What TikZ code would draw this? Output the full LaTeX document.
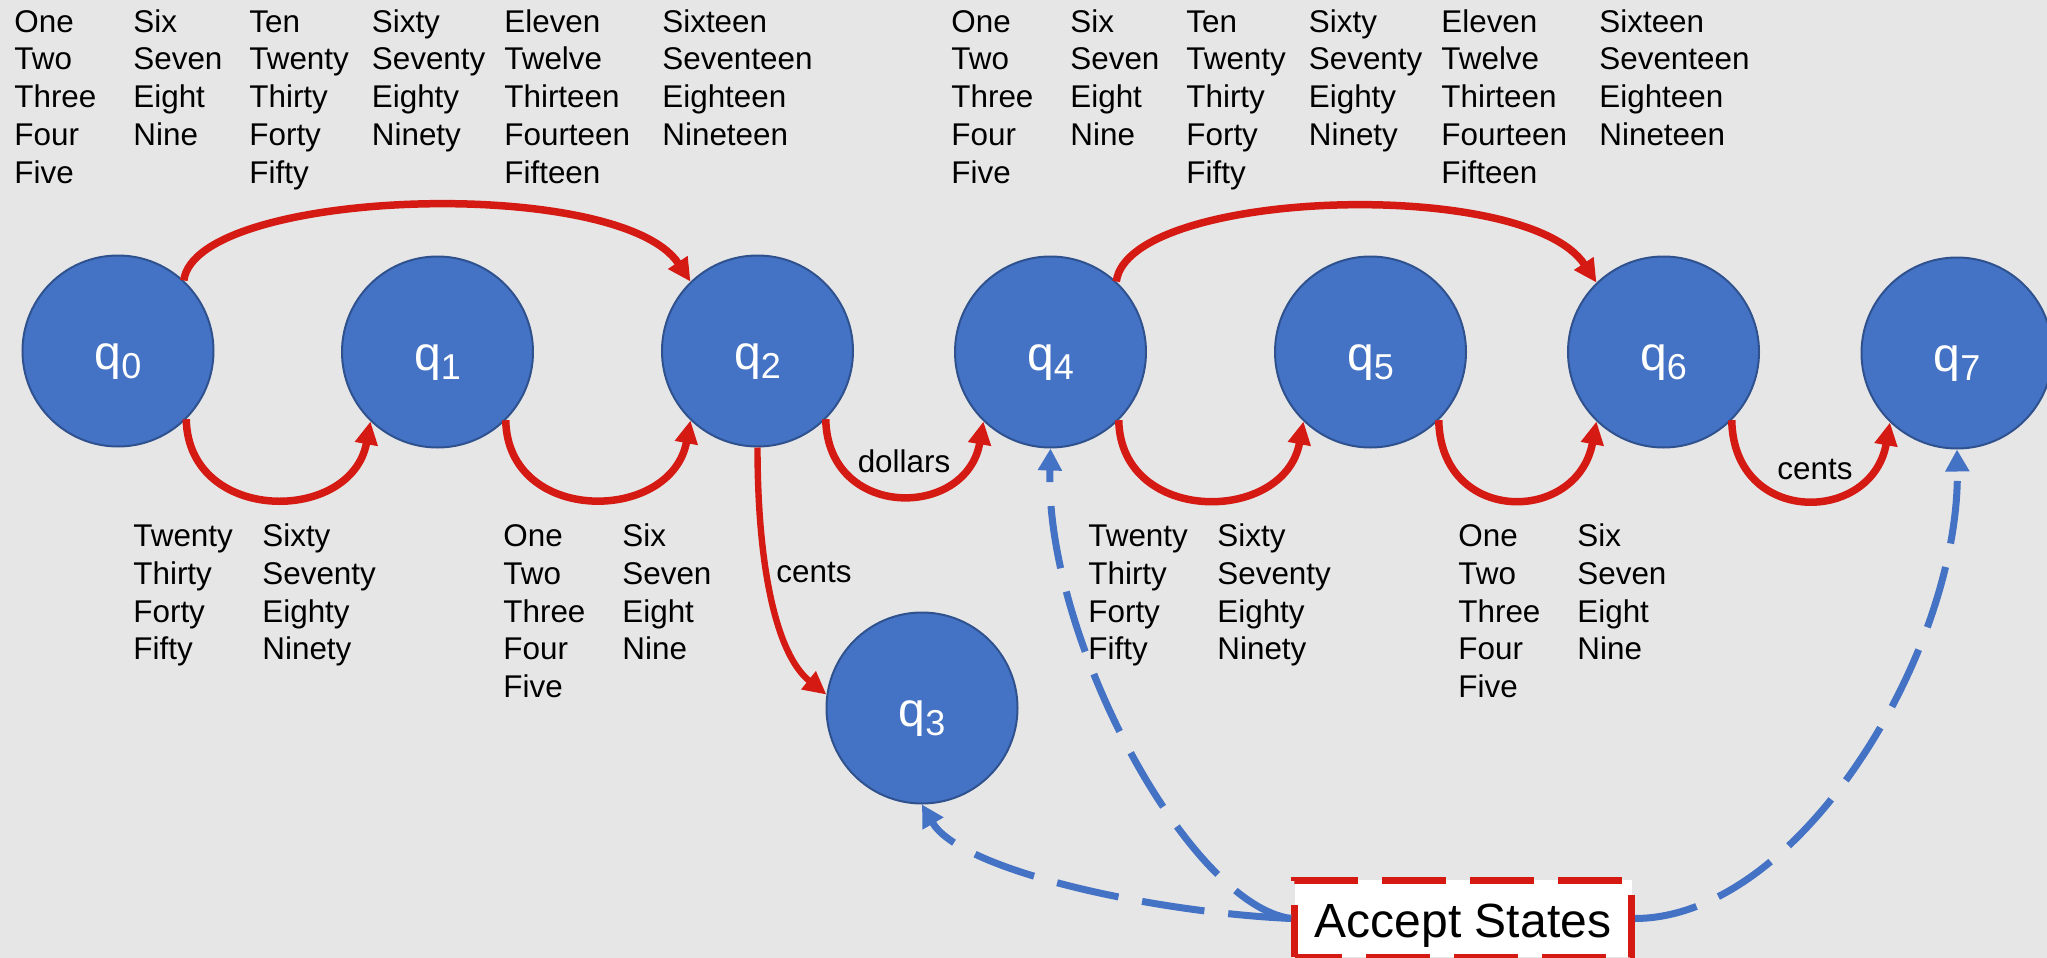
\documentclass[tikz,border=0pt]{standalone}
\usepackage{fontspec}
\setmainfont{Liberation Sans}
\usetikzlibrary{arrows.meta}
\definecolor{bgc}{RGB}{231,230,230}
\definecolor{stfill}{RGB}{68,114,196}
\definecolor{stdraw}{RGB}{47,82,143}
\definecolor{arrred}{RGB}{213,26,20}
\definecolor{accblue}{RGB}{68,114,196}
\newcommand{\firstln}{\rule{0pt}{12pt}}
\newcommand{\qsub}[1]{q\raisebox{-4.5pt}{\fontsize{18}{18}\selectfont #1}}
\begin{document}
\begin{tikzpicture}[x=0.5pt,y=-0.5pt,
  state/.style={circle, fill=stfill, draw=stdraw, line width=1pt, minimum size=95.5pt, inner sep=0pt, text=white, font=\fontsize{24}{24}\selectfont, text height=23pt, text depth=5pt},
  words/.style={font=\fontsize{15.7}{18.9}\selectfont, align=left, anchor=north west, inner sep=0pt},
  elabel/.style={font=\fontsize{15.7}{18.9}\selectfont, inner sep=0pt},
  trans/.style={draw=arrred, line width=3.75pt, -{Triangle[length=11.5pt,width=11pt]}},
  accline/.style={draw=accblue, line width=3.5pt, dash pattern=on 31.5pt off 12pt, -{Triangle[length=11pt,width=11.5pt]}},
  accbox/.style={rectangle, fill=white, draw=arrred, line width=3.5pt, dash pattern=on 32pt off 12pt, dash phase=8.25pt, minimum width=168.5pt, minimum height=38.5pt, inner sep=0pt, font=\fontsize{24}{24}\selectfont, text height=24pt, text depth=5pt}
]
\fill[bgc] (0,0) rectangle (2047,958);
\useasboundingbox (0,0) rectangle (2047,958);

% states
\node[state] (q0) at (118,351) {\qsub{0}};
\node[state] (q1) at (437.5,352) {\qsub{1}};
\node[state] (q2) at (757.5,351) {\qsub{2}};
\node[state] (q3) at (922,708) {\qsub{3}};
\node[state] (q4) at (1050.5,352) {\qsub{4}};
\node[state] (q5) at (1370.5,352) {\qsub{5}};
\node[state] (q6) at (1663.5,352) {\qsub{6}};
\node[state] (q7) at (1957,353) {\qsub{7}};

% top word lists
\node[words] (tA1) at (14,7.7) {\firstln One\\Two\\Three\\Four\\Five};
\node[words] (tA2) at (133,7.7) {\firstln Six\\Seven\\Eight\\Nine};
\node[words] (tA3) at (249,7.7) {\firstln Ten\\Twenty\\Thirty\\Forty\\Fifty};
\node[words] (tA4) at (371.5,7.7) {\firstln Sixty\\Seventy\\Eighty\\Ninety};
\node[words] (tA5) at (504,7.7) {\firstln Eleven\\Twelve\\Thirteen\\Fourteen\\Fifteen};
\node[words] (tA6) at (662,7.7) {\firstln Sixteen\\Seventeen\\Eighteen\\Nineteen};
\node[words] (tB1) at (951,7.7) {\firstln One\\Two\\Three\\Four\\Five};
\node[words] (tB2) at (1070,7.7) {\firstln Six\\Seven\\Eight\\Nine};
\node[words] (tB3) at (1186,7.7) {\firstln Ten\\Twenty\\Thirty\\Forty\\Fifty};
\node[words] (tB4) at (1308.5,7.7) {\firstln Sixty\\Seventy\\Eighty\\Ninety};
\node[words] (tB5) at (1441,7.7) {\firstln Eleven\\Twelve\\Thirteen\\Fourteen\\Fifteen};
\node[words] (tB6) at (1599,7.7) {\firstln Sixteen\\Seventeen\\Eighteen\\Nineteen};

% bottom word lists
\node[words] (bA1) at (133,522) {\firstln Twenty\\Thirty\\Forty\\Fifty};
\node[words] (bA2) at (262,522) {\firstln Sixty\\Seventy\\Eighty\\Ninety};
\node[words] (bA3) at (503,522) {\firstln One\\Two\\Three\\Four\\Five};
\node[words] (bA4) at (622,522) {\firstln Six\\Seven\\Eight\\Nine};
\node[words] (bB1) at (1088,522) {\firstln Twenty\\Thirty\\Forty\\Fifty};
\node[words] (bB2) at (1217,522) {\firstln Sixty\\Seventy\\Eighty\\Ninety};
\node[words] (bB3) at (1458,522) {\firstln One\\Two\\Three\\Four\\Five};
\node[words] (bB4) at (1577,522) {\firstln Six\\Seven\\Eight\\Nine};

% edge labels
\node[elabel, anchor=base] (ldollars) at (904,472) {dollars};
\node[elabel, anchor=base west] (lcentsA) at (776,582) {cents};
\node[elabel, anchor=base] (lcentsB) at (1815,479) {cents};

% red transitions
\draw[trans] (q0.47) .. controls +(12,-92) and +(-71,-107) .. (q2.134);
\draw[trans] (q4.47) .. controls +(12,-92) and +(-71,-107) .. (q6.134);
\draw[trans] (q0.-45) .. controls +(2,105) and +(-19,103) .. (q1.-134);
\draw[trans] (q1.-45) .. controls +(2,105) and +(-19,103) .. (q2.-134);
\draw[trans] (q2.-45) .. controls +(2,101) and +(-17,98) .. (q4.-134);
\draw[trans] (q4.-45) .. controls +(2,105) and +(-19,103) .. (q5.-134);
\draw[trans] (q5.-45) .. controls +(2,105) and +(-19,103) .. (q6.-134);
\draw[trans] (q6.-45) .. controls +(2,106) and +(-18,102) .. (q7.-134);
\draw[trans, line width=3.2pt] (q2.-90) .. controls +(0,120) and +(-50,-40) .. (q3.172);

% accept box and blue dashed arrows
\node[accbox] (acc) at (1463,918.5) {Accept States};
\draw[accline] (acc.west) .. controls (1150,912) and (960,870) .. (q3.-90);
\draw[accline] (acc.west) .. controls (1190,905) and (1045,640) .. (q4.-90);
\draw[accline] (acc.east) .. controls (1800,918) and (1960,650) .. (q7.-90);
\end{tikzpicture}
\end{document}
